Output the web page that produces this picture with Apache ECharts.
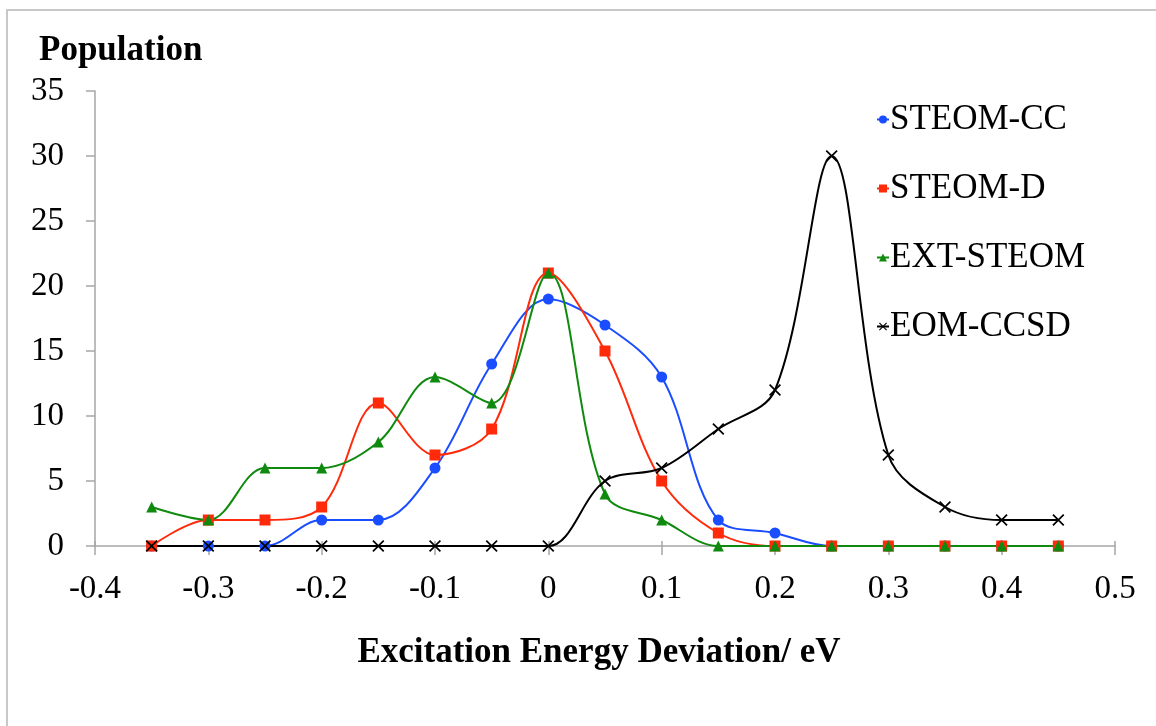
<!DOCTYPE html>
<html>
<head>
<meta charset="utf-8">
<script src="https://cdn.jsdelivr.net/npm/echarts@6/dist/echarts.min.js"></script>
<style>
  html, body { margin: 0; padding: 0; background: #fff; }
  #chart { width: 1156px; height: 726px; }
</style>
</head>
<body>
<div id="chart"></div>
<script>
// energy deviation bins (eV)
var deviation = [-0.35, -0.3, -0.25, -0.2, -0.15, -0.1, -0.05, 0, 0.05, 0.1, 0.15, 0.2, 0.25, 0.3, 0.35, 0.4, 0.45];
var steomCC  = [0, 0, 0, 2, 2, 6, 14, 19, 17, 13, 2, 1, 0, 0, 0, 0, 0];
var steomD   = [0, 2, 2, 3, 11, 7, 9, 21, 15, 5, 1, 0, 0, 0, 0, 0, 0];
var extSteom = [3, 2, 6, 6, 8, 13, 11, 21, 4, 2, 0, 0, 0, 0, 0, 0, 0];
var eomCCSD  = [0, 0, 0, 0, 0, 0, 0, 0, 5, 6, 9, 12, 30, 7, 3, 2, 2];

function pairs(vals) {
    return deviation.map(function (x, i) { return [x, vals[i]]; });
}

var serif = '"Liberation Serif", "Times New Roman", serif';
var crossPath = 'path://M0,1L1,0L5,4L9,0L10,1L6,5L10,9L9,10L5,6L1,10L0,9L4,5Z';

function line(name, vals, color, symbol, size) {
    return {
        name: name,
        type: 'line',
        xAxisIndex: 0,
        data: pairs(vals),
        smooth: 0.35,
        symbol: symbol,
        symbolSize: size,
        showAllSymbol: true,
        lineStyle: { color: color, width: 2 },
        itemStyle: { color: color },
        emphasis: { disabled: true }
    };
}

var myChart = echarts.init(document.getElementById('chart'));
myChart.setOption({
    animation: false,
    backgroundColor: '#fff',
    graphic: [{
        type: 'rect',
        shape: { x: 7, y: 10, width: 1300, height: 900 },
        style: { fill: 'none', stroke: '#c8c8c8', lineWidth: 2 },
        silent: true
    }],
    title: {
        text: 'Population',
        left: 34,
        top: 28,
        textStyle: { fontFamily: serif, fontWeight: 'bold', fontSize: 35, color: '#000' }
    },
    legend: {
        orient: 'vertical',
        left: 871,
        top: 97,
        itemGap: 34,
        itemWidth: 12,
        itemHeight: 10,
        textStyle: { fontFamily: serif, fontSize: 35, color: '#000', padding: [0, 0, 0, -4] },
        data: ['STEOM-CC', 'STEOM-D', 'EXT-STEOM', 'EOM-CCSD']
    },
    grid: { left: 95, right: 41, top: 91, bottom: 180 },
    xAxis: [{
        type: 'value',
        min: -0.4,
        max: 0.5,
        interval: 0.1,
        name: 'Excitation Energy Deviation/ eV',
        nameLocation: 'middle',
        nameGap: 89,
        nameTextStyle: { fontFamily: serif, fontWeight: 'bold', fontSize: 35, color: '#000', padding: [0, 12, 0, 0] },
        axisLine: { lineStyle: { color: '#a6a6a6', width: 1.5 } },
        axisTick: { length: 9, lineStyle: { color: '#a6a6a6', width: 1.5 } },
        axisLabel: { fontFamily: serif, fontSize: 33, color: '#000', margin: 27,
            formatter: function (v) { return String(Math.round(v * 10) / 10); } },
        splitLine: { show: false }
    }, {
        type: 'value',
        position: 'bottom',
        offset: 0,
        min: -0.4,
        max: 0.5,
        interval: 0.1,
        axisLine: { show: false },
        axisTick: { inside: true, length: 5, lineStyle: { color: '#a6a6a6', width: 1.5 } },
        axisLabel: { show: false },
        splitLine: { show: false }
    }],
    yAxis: {
        type: 'value',
        min: 0,
        max: 35,
        interval: 5,
        axisLine: { show: true, onZero: false, lineStyle: { color: '#a6a6a6', width: 1.5 } },
        axisTick: { show: true, length: 9, lineStyle: { color: '#a6a6a6', width: 1.5 } },
        axisLabel: { fontFamily: serif, fontSize: 33, color: '#000', margin: 31, padding: [6, 0, 0, 0] },
        splitLine: { show: false }
    },
    series: [
        line('STEOM-CC', steomCC, '#1a4dff', 'circle', 11),
        line('STEOM-D', steomD, '#ff2a0a', 'rect', 11),
        line('EXT-STEOM', extSteom, '#0f8a0f', 'triangle', 11),
        line('EOM-CCSD', eomCCSD, '#000000', crossPath, 12)
    ]
});
</script>
</body>
</html>
